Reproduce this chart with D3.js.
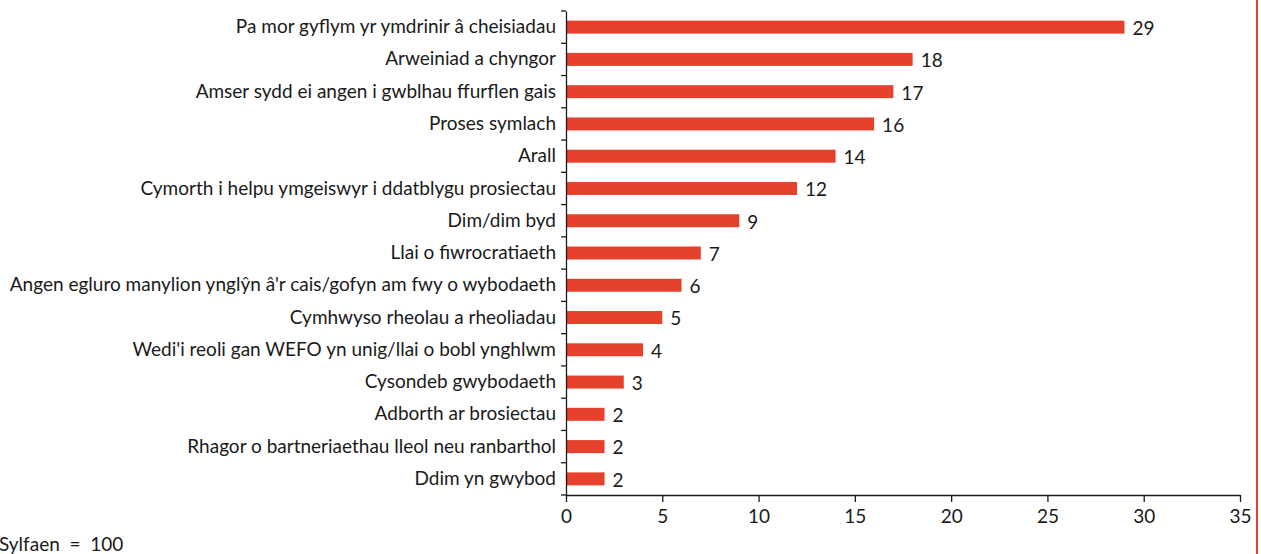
<!DOCTYPE html>
<html>
<head>
<meta charset="utf-8">
<script src="https://cdn.jsdelivr.net/npm/d3@7"></script>
<style>
  body { margin: 0; background: #fff; }
  svg { display: block; }
  text { font-family: Lato, "Open Sans", sans-serif; fill: #1a1a1a; }
</style>
</head>
<body>
<svg id="chart" width="1261" height="554"></svg>
<script>
var categories = [
	'Pa mor gyflym yr ymdrinir â cheisiadau',
	'Arweiniad a chyngor',
	'Amser sydd ei angen i gwblhau ffurflen gais',
	'Proses symlach',
	'Arall',
	'Cymorth i helpu ymgeiswyr i ddatblygu prosiectau',
	'Dim/dim byd',
	'Llai o fiwrocratiaeth',
	'Angen egluro manylion ynglŷn â\'r cais/gofyn am fwy o wybodaeth',
	'Cymhwyso rheolau a rheoliadau',
	'Wedi\'i reoli gan WEFO yn unig/llai o bobl ynghlwm',
	'Cysondeb gwybodaeth',
	'Adborth ar brosiectau',
	'Rhagor o bartneriaethau lleol neu ranbarthol',
	'Ddim yn gwybod'
];
var values = [29, 18, 17, 16, 14, 12, 9, 7, 6, 5, 4, 3, 2, 2, 2];
var x_ticks = [0, 5, 10, 15, 20, 25, 30, 35];
var base_note = 'Sylfaen  =  100';

var MARGIN_LEFT = 566, MARGIN_TOP = 11, PLOT_RIGHT = 1240, AXIS_Y = 495;
var BAR_COLOR = '#e5412d';
var FONT_SIZE = 19;

var svg = d3.select('#chart');

var x = d3.scaleLinear()
		.domain([0, 35])
		.range([MARGIN_LEFT, PLOT_RIGHT]);

var y = d3.scaleBand()
		.domain(categories)
		.range([MARGIN_TOP, AXIS_Y]);

// bars
svg.append('g')
	.selectAll('rect')
	.data(values)
	.enter().append('rect')
	.attr('x', x(0))
	.attr('y', function(d, i) { return y(categories[i]) + y.bandwidth() / 2 - 6.5; })
	.attr('width', function(d) { return x(d) - x(0); })
	.attr('height', 13)
	.attr('fill', BAR_COLOR);

// value labels
svg.append('g')
	.selectAll('text')
	.data(values)
	.enter().append('text')
	.attr('x', function(d) { return x(d) + 8; })
	.attr('y', function(d, i) { return y(categories[i]) + y.bandwidth() / 2 + 1; })
	.attr('dy', '0.36em')
	.style('font-size', FONT_SIZE + 'px')
	.text(function(d) { return d; });

// x axis
var x_axis = svg.append('g')
	.attr('transform', 'translate(0,' + AXIS_Y + ')')
	.call(d3.axisBottom(x).tickValues(x_ticks).tickSize(7).tickPadding(8).tickSizeOuter(0));

// y axis
var y_axis = svg.append('g')
	.attr('transform', 'translate(' + MARGIN_LEFT + ',0)')
	.call(d3.axisLeft(y).tickSize(0).tickPadding(10).tickSizeOuter(0));

// category separators on the y axis
svg.append('g')
	.selectAll('line')
	.data(categories.concat(['end']))
	.enter().append('line')
	.attr('x1', MARGIN_LEFT - 5)
	.attr('x2', MARGIN_LEFT)
	.attr('y1', function(d, i) { return MARGIN_TOP + i * y.step(); })
	.attr('y2', function(d, i) { return MARGIN_TOP + i * y.step(); })
	.attr('stroke', '#1a1a1a')
	.attr('stroke-width', 1.3);

[x_axis, y_axis].forEach(function(a) {
	a.selectAll('text')
		.style('font-family', 'Lato, sans-serif')
		.style('font-size', FONT_SIZE + 'px')
		.attr('fill', '#1a1a1a');
	a.selectAll('path, line')
		.attr('stroke', '#1a1a1a')
		.attr('stroke-width', 1.3);
});

// right border line
svg.append('line')
	.attr('x1', 1257).attr('x2', 1257)
	.attr('y1', 0).attr('y2', 554)
	.attr('stroke', BAR_COLOR)
	.attr('stroke-width', 2);

// base note
svg.append('text')
	.attr('x', -1)
	.attr('y', 551)
	.style('font-size', FONT_SIZE + 'px')
	.style('white-space', 'pre')
	.text(base_note);
</script>
</body>
</html>
